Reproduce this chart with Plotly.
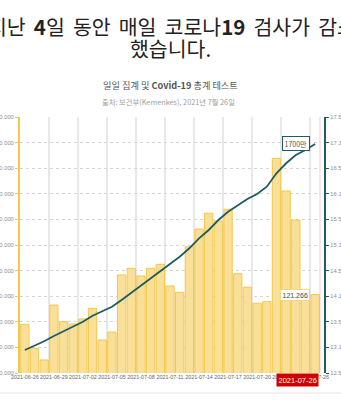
import pandas as pd
import plotly.graph_objects as go

# ---- data ----
dates = pd.date_range("2021-06-26", "2021-07-26", freq="D")
daily_tests = [98000, 79300, 70200, 113100, 100100, 98300, 102200, 110500, 85800, 92000,
               136600, 141800, 135800, 141800, 144900, 128000, 123000, 158700, 172500, 184800,
               178800, 187900, 137600, 127000, 114500, 115700, 227700, 202200, 179500, 125000,
               121266]
cumulative_tests = [12949000, 13027000, 13119000, 13223000, 13314000, 13404000, 13502000,
                    13619000, 13711000, 13795000, 13926000, 14068000, 14213000, 14350000,
                    14492000, 14629000, 14771000, 14936000, 15131000, 15293000, 15488000,
                    15650000, 15781000, 15898000, 15996000, 16139000, 16400000, 16596000,
                    16758000, 16855000, 16973000]
left_ticks = [60000 + 20000 * i for i in range(11)]
right_ticks = [12500000 + 500000 * i for i in range(11)]
right_ticktext = ["12.5 Jt", "13 Jt", "13.5 Jt", "14 Jt", "14.5 Jt", "15 Jt",
                  "15.5 Jt", "16 Jt", "16.5 Jt", "17 Jt", "17.5 Jt"]
last_cum_label = "1700만"
last_daily_label = f"{daily_tests[-1]:,}".replace(",", ".")
highlight_date_label = dates[-1].strftime("%Y-%m-%d")

SP = "\u2004\u200a"
title_line1 = SP.join(["지난", "<b>4</b>일", "동안", "매일", "코로나<b>19</b>", "검사가", "감소"])
title_line2 = "했습니다."
subtitle_text = "일일 집계 및 <b>Covid-19</b> 총계 테스트"
source_text = "출처: 보건부(Kemenkes), 2021년 7월 26일"

KFONT = "Noto Sans CJK KR, Noto Sans, sans-serif"
LFONT = "Liberation Sans, Arial, sans-serif"
YELLOW = "#f2c94c"
BARFILL = "#f9df98"
TEAL = "#1e5b64"

W, H = 341, 400
ML, MR, MT, MB = 20, 16, 117, 27
plot_w = W - ML - MR
plot_h = H - MT - MB
xdom_end = 300 / plot_w


def px_x(x):
    return (x - ML) / plot_w


def px_y(y):
    return (MT + plot_h - y) / plot_h


fig = go.Figure()
fig.add_trace(go.Bar(
    x=dates, y=daily_tests, yaxis="y",
    marker=dict(color=BARFILL, line=dict(color=YELLOW, width=1)),
    hoverinfo="skip",
))
fig.add_trace(go.Scatter(
    x=dates, y=cumulative_tests, yaxis="y2", mode="lines",
    line=dict(color=TEAL, width=1.8),
    hoverinfo="skip",
))

fig.update_layout(
    template="none",
    width=W, height=H,
    margin=dict(l=ML, r=MR, t=MT, b=MB, pad=0),
    paper_bgcolor="white", plot_bgcolor="white",
    showlegend=False,
    bargap=0.14,
    separators=",.",
    font=dict(family=KFONT, color="#333"),
    xaxis=dict(
        type="date", domain=[0, xdom_end],
        range=["2021-06-25 12:00", "2021-07-26 12:00"],
        tickmode="linear", tick0="2021-06-26", dtick=3 * 86400000,
        tickformat="%Y-%m-%d", tickangle=0, showgrid=False, ticks="", showline=False,
        tickfont=dict(family=LFONT, size=5.4, color="#666"),
        minor=dict(tick0="2021-06-28 12:00", dtick=3 * 86400000, showgrid=True,
                   gridcolor="#e8e8e8", gridwidth=1.5, ticks=""),
        automargin=False, zeroline=False,
    ),
    yaxis=dict(
        range=[60000, 260000], tickvals=left_ticks, tickformat=",d",
        showgrid=True, gridcolor="#d6d6d6", griddash="dot", gridwidth=1,
        showline=True, linecolor=YELLOW, linewidth=2,
        ticks="outside", ticklen=3, tickcolor=YELLOW, tickwidth=1,
        tickfont=dict(family=LFONT, size=5.8, color="#8a909a"),
        automargin=False, zeroline=False,
    ),
    yaxis2=dict(
        range=[12500000, 17500000], tickvals=right_ticks, ticktext=right_ticktext,
        overlaying="y", side="right", anchor="free", position=1.0,
        showgrid=False, showline=True, linecolor=TEAL, linewidth=2,
        ticks="outside", ticklen=3, tickcolor=TEAL, tickwidth=1,
        tickfont=dict(family=LFONT, size=5.8, color="#8a909a"),
        automargin=False, zeroline=False,
    ),
)

# right edge marker line (today)
fig.add_shape(type="line", xref="x domain", yref="paper", x0=1, x1=1, y0=0, y1=1,
              line=dict(color="rgba(240,140,140,0.45)", width=1))
# bottom separator
fig.add_shape(type="line", xref="paper", yref="paper",
              x0=px_x(0), x1=px_x(W), y0=px_y(393), y1=px_y(393),
              line=dict(color="#e4e4e4", width=1))

# title lines
fig.add_annotation(text=title_line1, xref="paper", yref="paper",
                   x=px_x(172), y=px_y(26), showarrow=False,
                   xanchor="center", yanchor="middle",
                   font=dict(family=KFONT, size=20.5, color="#222"))
fig.add_annotation(text=title_line2, xref="paper", yref="paper",
                   x=px_x(170), y=px_y(48), showarrow=False,
                   xanchor="center", yanchor="middle",
                   font=dict(family=KFONT, size=20.5, color="#222"))
# subtitle / source
fig.add_annotation(text=subtitle_text, xref="paper", yref="paper",
                   x=px_x(170), y=px_y(85), showarrow=False,
                   xanchor="center", yanchor="middle",
                   font=dict(family=KFONT, size=9.2, color="#555"))
fig.add_annotation(text=source_text, xref="paper", yref="paper",
                   x=px_x(168), y=px_y(102), showarrow=False,
                   xanchor="center", yanchor="middle",
                   font=dict(family=KFONT, size=7.3, color="#a0a0a0"))

# value callouts
fig.add_annotation(text=last_cum_label, x=dates[-1], y=cumulative_tests[-1], xref="x", yref="y2",
                   showarrow=False, xanchor="right", yanchor="middle", xshift=-5,
                   bgcolor="white", bordercolor=TEAL, borderwidth=1, borderpad=1.5,
                   font=dict(family=KFONT, size=7, color="#555"))
fig.add_annotation(text=last_daily_label, x=dates[-1], y=daily_tests[-1], xref="x", yref="y",
                   showarrow=False, xanchor="right", yanchor="middle", xshift=-5,
                   bgcolor="white", bordercolor="#f3d77e", borderwidth=1, borderpad=1.5,
                   font=dict(family=LFONT, size=7, color="#444"))
# highlighted date label
fig.add_annotation(text=highlight_date_label, x=dates[-1], y=0, xref="x", yref="paper",
                   showarrow=False, xanchor="right", yanchor="top", xshift=4, yshift=0,
                   bgcolor="#d00000", borderpad=1.5,
                   font=dict(family=LFONT, size=7.5, color="white"))

fig.write_html("out.html")
